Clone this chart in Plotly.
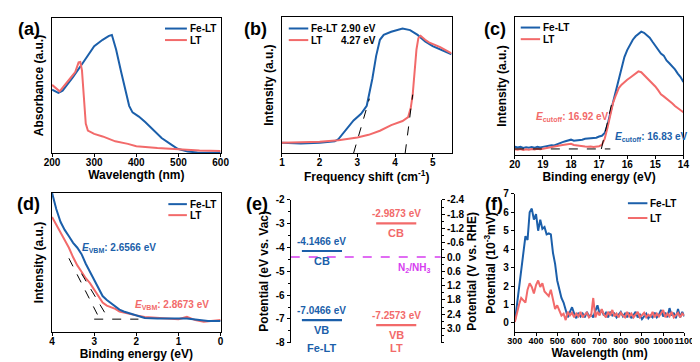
import plotly.graph_objects as go

BLUE = "#1B5FAA"
RED = "#F26A6A"
MAGENTA = "#D63CF0"
FONT = "Liberation Sans"

# ---------------- (a) UV-vis absorbance ----------------
a_wl_fe = [200, 215, 225, 250, 275, 300, 320, 335, 342, 352, 364, 375, 383, 391, 406, 421, 437, 460, 483, 498, 522, 545, 583, 600]
a_abs_fe = [0.469, 0.445, 0.462, 0.564, 0.676, 0.79, 0.838, 0.867, 0.874, 0.767, 0.6, 0.457, 0.35, 0.302, 0.271, 0.231, 0.183, 0.112, 0.064, 0.033, 0.012, 0.006, 0.004, 0.004]
a_wl_lt = [200, 210, 218, 240, 255, 263, 267, 271, 275, 280, 285, 300, 320, 350, 380, 400, 450, 500, 550, 600]
a_abs_lt = [0.505, 0.476, 0.457, 0.541, 0.6, 0.671, 0.674, 0.612, 0.41, 0.219, 0.167, 0.143, 0.124, 0.088, 0.069, 0.052, 0.038, 0.029, 0.021, 0.017]

# ---------------- (b) Tauc-type plot ----------------
b_x_fe = [1.0, 1.5, 2.0, 2.4, 2.5, 2.7, 2.9, 3.1, 3.25, 3.4, 3.5, 3.6, 3.7, 3.9, 4.2, 4.4, 4.6, 4.8, 5.0, 5.5]
b_y_fe = [0.076, 0.071, 0.076, 0.087, 0.104, 0.17, 0.241, 0.289, 0.348, 0.548, 0.714, 0.832, 0.868, 0.891, 0.915, 0.903, 0.868, 0.82, 0.785, 0.726]
b_x_lt = [1.0, 2.0, 2.5, 3.0, 3.3, 3.6, 3.9, 4.2, 4.35, 4.42, 4.47, 4.52, 4.57, 4.62, 4.68, 4.8, 4.9, 5.2, 5.5]
b_y_lt = [0.076, 0.085, 0.095, 0.116, 0.135, 0.165, 0.206, 0.236, 0.265, 0.336, 0.43, 0.596, 0.761, 0.844, 0.861, 0.832, 0.813, 0.778, 0.733]
b_gap_fe = 2.90
b_gap_lt = 4.27
b_tan_fe_x = [2.90, 3.32]
b_tan_fe_y = [0.0, 0.40]
b_tan_lt_x = [4.27, 4.47]
b_tan_lt_y = [0.0, 0.43]

# ---------------- (c) UPS cutoff ----------------
c_be = [20.0, 19.9, 19.8, 19.7, 19.6, 19.5, 19.4, 19.3, 19.2, 19.1, 19.0, 18.9, 18.8, 18.7, 18.6, 18.5, 18.4, 18.3, 18.2, 18.1,
        18.0, 17.9, 17.8, 17.7, 17.6, 17.5, 17.4, 17.3, 17.2, 17.1, 17.0, 16.9, 16.8, 16.7, 16.6, 16.5, 16.4, 16.3, 16.2, 16.1,
        16.0, 15.9, 15.8, 15.7, 15.6, 15.5, 15.4, 15.3, 15.2, 15.1, 15.0, 14.9, 14.8, 14.7, 14.6, 14.5, 14.4, 14.3, 14.2, 14.1, 14.0]
c_int_fe = [0.061, 0.055, 0.060, 0.052, 0.057, 0.054, 0.058, 0.053, 0.060, 0.056, 0.060, 0.064, 0.066, 0.072, 0.070, 0.080, 0.086, 0.094, 0.100, 0.108,
            0.112, 0.104, 0.106, 0.110, 0.112, 0.118, 0.120, 0.125, 0.128, 0.126, 0.135, 0.140, 0.160, 0.220, 0.305, 0.390, 0.455, 0.550, 0.640, 0.710,
            0.760, 0.800, 0.835, 0.860, 0.875, 0.893, 0.885, 0.870, 0.850, 0.820, 0.790, 0.765, 0.735, 0.720, 0.685, 0.665, 0.645, 0.620, 0.590, 0.565, 0.530]
c_int_lt = [0.042, 0.040, 0.045, 0.038, 0.043, 0.040, 0.044, 0.041, 0.046, 0.043, 0.047, 0.050, 0.053, 0.058, 0.060, 0.066, 0.070, 0.074, 0.077, 0.080,
            0.082, 0.074, 0.070, 0.066, 0.064, 0.062, 0.060, 0.063, 0.059, 0.062, 0.065, 0.075, 0.120, 0.200, 0.300, 0.380, 0.435, 0.485, 0.510, 0.530,
            0.545, 0.560, 0.575, 0.590, 0.606, 0.600, 0.580, 0.560, 0.540, 0.515, 0.497, 0.470, 0.440, 0.425, 0.410, 0.395, 0.375, 0.355, 0.340, 0.325, 0.310]
c_cut_lt = 16.92
c_cut_fe = 16.83
c_base_x = [20.0, 16.6]
c_base_y = [0.045, 0.045]
c_tan_x = [16.92, 16.50]
c_tan_y = [0.045, 0.42]

# ---------------- (d) UPS valence band ----------------
d_be_fe = [4.0, 3.9, 3.8, 3.7, 3.6, 3.5, 3.4, 3.3, 3.2, 3.1, 3.0, 2.9, 2.8, 2.7, 2.6, 2.5, 2.4, 2.3, 2.2, 2.1, 2.0, 1.8, 1.5, 1.2, 1.0, 0.8, 0.5, 0.3, 0.0]
d_int_fe = [1.0, 0.884, 0.792, 0.734, 0.688, 0.641, 0.606, 0.56, 0.491, 0.433, 0.375, 0.306, 0.259, 0.231, 0.208, 0.19, 0.162, 0.148, 0.139, 0.125, 0.116, 0.102, 0.097, 0.097, 0.102, 0.097, 0.086, 0.079, 0.079]
d_be_lt = [4.0, 3.9, 3.8, 3.7, 3.6, 3.5, 3.4, 3.3, 3.2, 3.1, 3.0, 2.9, 2.8, 2.7, 2.6, 2.5, 2.4, 2.2, 2.0, 1.8, 1.5, 1.2, 1.0, 0.8, 0.6, 0.4, 0.2, 0.0]
d_int_lt = [0.826, 0.769, 0.722, 0.664, 0.606, 0.537, 0.479, 0.433, 0.387, 0.352, 0.306, 0.255, 0.213, 0.19, 0.178, 0.167, 0.148, 0.132, 0.12, 0.109, 0.102, 0.097, 0.093, 0.109, 0.086, 0.074, 0.079, 0.086]
d_vbm_fe = 2.6566
d_vbm_lt = 2.8673
d_base_x = [3.0, 1.95]
d_base_y = [0.093, 0.093]
d_tan_fe_x = [3.30, 2.6566]
d_tan_fe_y = [0.42, 0.093]
d_tan_lt_x = [3.60, 2.8673]
d_tan_lt_y = [0.53, 0.093]

# ---------------- (e) band alignment ----------------
e_materials = ["Fe-LT", "LT"]
e_cb = [-4.1466, -2.9873]
e_vb = [-7.0466, -7.2573]
e_vac_to_rhe = -4.4          # 0 V vs RHE on the vacuum scale
e_n2_nh3 = 0.0               # V vs RHE
e_left_ticks = [-2, -3, -4, -5, -6, -7, -8]
e_right_ticks = [-2.4, -1.8, -1.2, -0.6, 0.0, 0.6, 1.2, 1.8, 2.4, 3.0]

# ---------------- (f) surface photovoltage ----------------
f_wl = list(range(300, 1101, 10))
f_pot_fe = [0.05, 1.0, 1.8, 2.7, 3.6, 4.7, 4.5, 6.0, 6.2, 5.6, 5.9, 5.0, 5.6, 5.1, 5.2, 4.8, 4.85, 4.8, 3.8, 3.2,
            2.3, 1.8, 1.35, 1.1, 0.65, 0.3, 0.6, 0.85, 0.5, 0.25, 0.55, 0.35, 0.5, 0.3, 0.6, 0.35, 0.45, 0.3, 0.65, 0.95,
            0.5, 0.7, 0.4, 0.55, 0.3, 0.6, 0.4, 0.5, 0.3, 0.45, 0.6, 0.35, 0.5, 0.3, 0.55, 0.25, 0.4, 0.6, 0.3, 0.45,
            0.2, 0.35, 0.5, 0.25, 0.4, 0.3, 0.55, 0.3, 0.45, 0.7, 0.35, 0.55, 0.3, 0.8, 0.4, 0.55, 0.25, 0.75, 0.3, 0.6, 0.35]
f_pot_lt = [0.05, 0.6, 1.0, 1.35, 1.2, 1.1, 1.8, 2.15, 1.95, 1.6, 2.05, 2.3, 1.95, 2.15, 1.7, 1.6, 1.45, 1.8, 1.3, 0.75,
            0.95, 0.65, 0.4, 0.5, 0.15, 0.6, 0.4, 0.55, 0.3, 0.5, 0.35, 0.6, 0.3, 0.45, 0.55, 0.3, 0.4, 1.35, 0.3, 0.6,
            0.4, 0.75, 0.45, 0.3, 0.6, 0.4, 0.7, 0.35, 0.5, 0.3, 0.55, 0.4, 0.3, 0.6, 0.35, 0.5, 0.3, 0.45, 0.6, 0.3,
            0.4, 0.55, 0.3, 0.45, 0.35, 0.6, 0.3, 0.5, 0.35, 0.55, 0.7, 0.3, 0.5, 0.35, 0.6, 0.3, 0.45, 0.55, 0.3, 0.5, 0.4]

W, H = 700, 362


def dx(p0, p1):
    return [p0 / W, p1 / W]


def dy(top, bottom):
    return [1 - bottom / H, 1 - top / H]


TICKFONT = dict(family=FONT, size=10, color="black", weight="bold")
TITLEFONT = dict(family=FONT, size=12, color="black", weight="bold")


def ax(**kw):
    base = dict(showline=True, linecolor="black", linewidth=1.2, ticks="outside", ticklen=3,
                tickwidth=1, tickcolor="black", tickfont=TICKFONT, showgrid=False, zeroline=False, tickangle=0)
    base.update(kw)
    return base


def xax(**kw):
    return ax(ticklabelstandoff=-3, **kw)


fig = go.Figure()


def line(x, y, color, xa, ya, width=2, dash=None):
    fig.add_trace(go.Scatter(x=x, y=y, mode="lines", xaxis=xa, yaxis=ya, showlegend=False,
                             line=dict(color=color, width=width, dash=dash)))


# (a)
line(a_wl_fe, a_abs_fe, BLUE, "x", "y")
line(a_wl_lt, a_abs_lt, RED, "x", "y")
# (b)
line(b_x_fe, b_y_fe, BLUE, "x2", "y2")
line(b_x_lt, b_y_lt, RED, "x2", "y2")
line(b_tan_fe_x, b_tan_fe_y, "black", "x2", "y2", 1, "dash")
line(b_tan_lt_x, b_tan_lt_y, "black", "x2", "y2", 1, "dash")
# (c)
line(c_be, c_int_fe, BLUE, "x3", "y3")
line(c_be, c_int_lt, RED, "x3", "y3")
line(c_base_x, c_base_y, "black", "x3", "y3", 1, "dash")
line(c_tan_x, c_tan_y, "black", "x3", "y3", 1, "dash")
# (d)
line(d_be_lt, d_int_lt, RED, "x4", "y4")
line(d_be_fe, d_int_fe, BLUE, "x4", "y4")
line(d_base_x, d_base_y, "black", "x4", "y4", 1, "dash")
line(d_tan_fe_x, d_tan_fe_y, "black", "x4", "y4", 1, "dash")
line(d_tan_lt_x, d_tan_lt_y, "black", "x4", "y4", 1, "dash")
# (e)
HW = 0.27
e_colors = [BLUE, RED]
for i, (m, cb, vb, col) in enumerate(zip(e_materials, e_cb, e_vb, e_colors)):
    for lev, lab in ((cb, "CB"), (vb, "VB")):
        line([i - HW, i + HW], [lev, lev], col, "x5", "y5", 2.2)
        fig.add_annotation(x=i, y=lev, xref="x5", yref="y5", text=f"{lev:.4f} eV", showarrow=False,
                           yanchor="bottom", yshift=2, font=dict(family=FONT, size=10, color=col, weight="bold"))
        fig.add_annotation(x=i, y=lev, xref="x5", yref="y5", text=lab, showarrow=False,
                           yanchor="top", yshift=-2, font=dict(family=FONT, size=11, color=col, weight="bold"))
    fig.add_annotation(x=i, y=-8, xref="x5", yref="y5", text=m, showarrow=False, yanchor="middle", yshift=-5,
                       font=dict(family=FONT, size=11, color=col, weight="bold"))
fig.add_trace(go.Scatter(x=[-0.42, 1.6], y=[e_n2_nh3, e_n2_nh3], mode="lines", xaxis="x5", yaxis="y6",
                         showlegend=False, line=dict(color=MAGENTA, width=1.6, dash="dash")))
fig.add_annotation(x=1.24, y=e_n2_nh3, xref="x5", yref="y6", text="N<sub>2</sub>/NH<sub>3</sub>", showarrow=False,
                   yanchor="top", yshift=-3, font=dict(family=FONT, size=10, color=MAGENTA, weight="bold"))
# (f)
line(f_wl, f_pot_fe, BLUE, "x6", "y7")
line(f_wl, f_pot_lt, RED, "x6", "y7")

# manual legends
LEGFONT = dict(family=FONT, size=10, color="black", weight="bold")


def legend(xa, ya, x0, x1, xt, rows, names=("Fe-LT", "LT"), colors=(BLUE, RED)):
    for nm, col, yy in zip(names, colors, rows):
        fig.add_shape(type="line", xref=f"{xa} domain", yref=f"{ya} domain", x0=x0, x1=x1, y0=yy, y1=yy,
                      line=dict(color=col, width=2))
        fig.add_annotation(xref=f"{xa} domain", yref=f"{ya} domain", x=xt, y=yy, text=nm, showarrow=False,
                           xanchor="left", yanchor="middle", font=LEGFONT)


legend("x", "y", 0.67, 0.80, 0.805, [0.921, 0.836])
legend("x2", "y2", 0.04, 0.155, 0.158, [0.915, 0.83])
legend("x3", "y3", 0.035, 0.15, 0.155, [0.923, 0.839])
legend("x4", "y4", 0.69, 0.80, 0.805, [0.919, 0.84])
legend("x6", "y7", 0.667, 0.782, 0.787, [0.932, 0.825])

# band gap values in (b)
for g, yy in ((b_gap_fe, 0.915), (b_gap_lt, 0.83)):
    fig.add_annotation(xref="x2 domain", yref="y2 domain", x=0.337, y=yy, text=f"{g:.2f} eV", showarrow=False,
                       xanchor="left", yanchor="middle", font=LEGFONT)

# cutoff / VBM annotations
fig.add_annotation(x=19.31, y=0.273, xref="x3", yref="y3", xanchor="left", showarrow=False,
                   text=f"<i>E</i><sub>cutoff</sub>: {c_cut_lt:.2f} eV", font=dict(family=FONT, size=10, color=RED, weight="bold"))
fig.add_annotation(x=16.52, y=0.133, xref="x3", yref="y3", xanchor="left", showarrow=False,
                   text=f"<i>E</i><sub>cutoff</sub>: {c_cut_fe:.2f} eV", font=dict(family=FONT, size=10, color=BLUE, weight="bold"))
fig.add_annotation(x=3.33, y=0.606, xref="x4", yref="y4", xanchor="left", showarrow=False,
                   text=f"<i>E</i><sub>VBM</sub>: {d_vbm_fe:.4f} eV", font=dict(family=FONT, size=10, color=BLUE, weight="bold"))
fig.add_annotation(x=2.07, y=0.194, xref="x4", yref="y4", xanchor="left", showarrow=False,
                   text=f"<i>E</i><sub>VBM</sub>: {d_vbm_lt:.4f} eV", font=dict(family=FONT, size=10, color=RED, weight="bold"))

# panel labels
for lab, px, py in (("(a)", 13.5, 15), ("(b)", 246, 15), ("(c)", 492, 15), ("(d)", 12.5, 196), ("(e)", 247.5, 196), ("(f)", 491, 197)):
    fig.add_annotation(xref="paper", yref="paper", x=px / W, y=1 - py / H, text=lab, showarrow=False,
                       xanchor="center", yanchor="middle", font=dict(family=FONT, size=18, color="black", weight="bold"))

fig.update_layout(
    width=W, height=H, margin=dict(l=0, r=0, t=0, b=0), paper_bgcolor="white", plot_bgcolor="white",
    showlegend=False,
    xaxis=xax(domain=dx(37, 210), range=[200, 600], dtick=100, mirror=True, anchor="y",
              title=dict(text="Wavelength (nm)", font=TITLEFONT, standoff=1)),
    yaxis=ax(domain=dy(4, 144), range=[0, 1], showticklabels=False, ticks="", mirror=True, anchor="x",
             title=dict(text="Absorbance (a.u.)", font=TITLEFONT, standoff=4)),
    xaxis2=xax(domain=dx(273, 447), range=[1, 5.5], dtick=1, tick0=1, mirror=True, anchor="y2",
               title=dict(text="Frequency shift (cm<sup>-1</sup>)", font=TITLEFONT, standoff=1)),
    yaxis2=ax(domain=dy(3, 144), range=[0, 1], showticklabels=False, ticks="", mirror=True, anchor="x2",
              title=dict(text="Intensity (a.u.)", font=TITLEFONT, standoff=4)),
    xaxis3=xax(domain=dx(512, 685), range=[20, 14], dtick=1, mirror=True, anchor="y3",
               title=dict(text="Binding energy (eV)", font=TITLEFONT, standoff=1)),
    yaxis3=ax(domain=dy(3, 146), range=[0, 1], showticklabels=False, ticks="", mirror=True, anchor="x3",
              title=dict(text="Intensity (a.u.)", font=TITLEFONT, standoff=4)),
    xaxis4=xax(domain=dx(37, 210), range=[4, 0], dtick=1, mirror=True, anchor="y4",
               title=dict(text="Binding energy (eV)", font=TITLEFONT, standoff=1)),
    yaxis4=ax(domain=dy(185, 329), range=[0, 1], showticklabels=False, ticks="", mirror=True, anchor="x4",
              title=dict(text="Intensity (a.u.)", font=TITLEFONT, standoff=4)),
    xaxis5=dict(domain=dx(282, 436), range=[-0.42, 1.6], visible=False, anchor="y5"),
    yaxis5=ax(domain=dy(192.3, 340), range=[-8, -2], tickvals=e_left_ticks, ticktext=[f"{v:g}" for v in e_left_ticks],
              minor=dict(dtick=0.5, ticks="outside", ticklen=2, tickcolor="black"), anchor="x5",
              title=dict(text="Potential (eV vs. Vac)", font=TITLEFONT, standoff=4)),
    yaxis6=ax(domain=dy(192.3, 340), overlaying="y5", side="right", anchor="x5",
              range=[-(-8) + e_vac_to_rhe, -(-2) + e_vac_to_rhe],
              tickvals=e_right_ticks, ticktext=[f"{v:.1f}" for v in e_right_ticks],
              minor=dict(dtick=0.3, ticks="outside", ticklen=2, tickcolor="black"),
              title=dict(text="Potential (V vs. RHE)", font=TITLEFONT, standoff=4)),
    xaxis6=xax(domain=dx(512, 686), range=[300, 1100], dtick=100, anchor="y7",
               tickfont=dict(family=FONT, size=9, color="black", weight="bold"),
               title=dict(text="Wavelength (nm)", font=TITLEFONT, standoff=1)),
    yaxis7=ax(domain=dy(186, 329), range=[-0.5, 7], dtick=1, tick0=0, anchor="x6",
              title=dict(text="Potential (10<sup>-3</sup>mV)", font=TITLEFONT, standoff=4)),
)

fig.write_html("out.html")
